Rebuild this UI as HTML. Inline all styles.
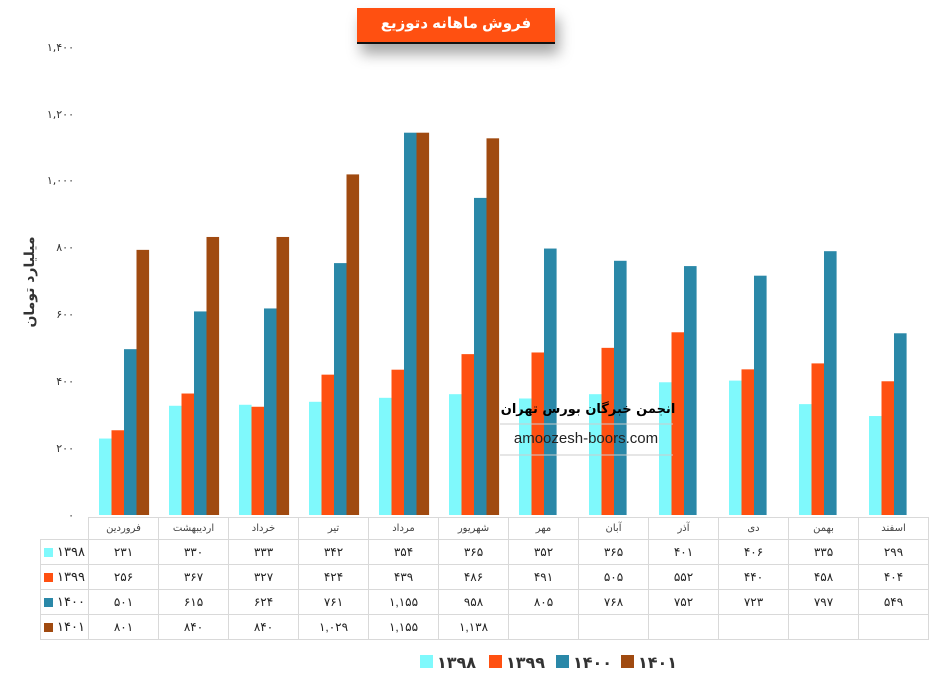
<!DOCTYPE html>
<html><head><meta charset="utf-8"><style>
body{margin:0;background:#fff;width:939px;height:684px;overflow:hidden;position:relative;font-family:"Liberation Sans","DejaVu Sans",sans-serif}
.t{position:absolute;left:357px;top:8px;width:198px;height:34px;background:#ff5011;border-bottom:2px solid #111;color:#fff;font-weight:bold;font-size:15px;text-align:center;line-height:32px;box-shadow:4px 10px 14px rgba(0,0,0,.35)}
table{position:absolute;left:40px;top:517px;border-collapse:collapse;font-size:12px;color:#222;table-layout:fixed;width:888px}
td{border:1.5px solid #d9d9d9;height:25px;text-align:center;padding:0;box-sizing:border-box}
td.h{text-align:left;padding-left:3px;font-size:13px}
tr.hd td{height:22px;font-size:10px;color:#444}
.sw{display:inline-block;width:9px;height:9px;margin-right:4px;vertical-align:middle}
</style></head><body>
<svg id="s" width="939" height="684" style="position:absolute;left:0;top:0">
<g font-size="11" fill="#333" text-anchor="end" font-family="DejaVu Sans,sans-serif">
<text x="74" y="519">۰</text><text x="74" y="452">۲۰۰</text><text x="74" y="385">۴۰۰</text><text x="74" y="318">۶۰۰</text><text x="74" y="251">۸۰۰</text><text x="74" y="184">۱,۰۰۰</text><text x="74" y="118">۱,۲۰۰</text><text x="74" y="51">۱,۴۰۰</text>
</g>
<text transform="translate(34,282) rotate(-90)" text-anchor="middle" font-size="14" font-weight="bold" fill="#333" font-family="DejaVu Sans,sans-serif">میلیارد تومان</text>
<g id="b"></g>
<text x="588" y="413" text-anchor="middle" font-size="13" font-weight="bold" fill="#000" font-family="DejaVu Sans,sans-serif">انجمن خبرگان بورس تهران</text>
<line x1="500" y1="424" x2="673" y2="424" stroke="#ccc"/>
<text x="586" y="443" text-anchor="middle" font-size="15" fill="#222">amoozesh-boors.com</text>
<line x1="500" y1="455" x2="673" y2="455" stroke="#ccc"/>
<g font-size="16" font-weight="bold" fill="#333" font-family="DejaVu Sans,sans-serif">
<rect x="420" y="655" width="13" height="13" fill="#7ff9fc"/><text x="437" y="668">۱۳۹۸</text>
<rect x="489" y="655" width="13" height="13" fill="#ff5011"/><text x="506" y="668">۱۳۹۹</text>
<rect x="556" y="655" width="13" height="13" fill="#2a88a8"/><text x="573" y="668">۱۴۰۰</text>
<rect x="621" y="655" width="13" height="13" fill="#a04a10"/><text x="638" y="668">۱۴۰۱</text>
</g>
</svg>
<div class="t">فروش ماهانه دتوزیع</div>
<table>
<colgroup><col style="width:48px"><col span="12" style="width:70px"></colgroup>
<tr class="hd"><td class="h" style="border-top:none;border-left:none"></td><td>فروردین</td><td>اردیبهشت</td><td>خرداد</td><td>تیر</td><td>مرداد</td><td>شهریور</td><td>مهر</td><td>آبان</td><td>آذر</td><td>دی</td><td>بهمن</td><td>اسفند</td></tr>
<tr><td class="h"><span class="sw" style="background:#7ff9fc"></span>۱۳۹۸</td><td>۲۳۱</td><td>۳۳۰</td><td>۳۳۳</td><td>۳۴۲</td><td>۳۵۴</td><td>۳۶۵</td><td>۳۵۲</td><td>۳۶۵</td><td>۴۰۱</td><td>۴۰۶</td><td>۳۳۵</td><td>۲۹۹</td></tr>
<tr><td class="h"><span class="sw" style="background:#ff5011"></span>۱۳۹۹</td><td>۲۵۶</td><td>۳۶۷</td><td>۳۲۷</td><td>۴۲۴</td><td>۴۳۹</td><td>۴۸۶</td><td>۴۹۱</td><td>۵۰۵</td><td>۵۵۲</td><td>۴۴۰</td><td>۴۵۸</td><td>۴۰۴</td></tr>
<tr><td class="h"><span class="sw" style="background:#2a88a8"></span>۱۴۰۰</td><td>۵۰۱</td><td>۶۱۵</td><td>۶۲۴</td><td>۷۶۱</td><td>۱,۱۵۵</td><td>۹۵۸</td><td>۸۰۵</td><td>۷۶۸</td><td>۷۵۲</td><td>۷۲۳</td><td>۷۹۷</td><td>۵۴۹</td></tr>
<tr><td class="h"><span class="sw" style="background:#a04a10"></span>۱۴۰۱</td><td>۸۰۱</td><td>۸۴۰</td><td>۸۴۰</td><td>۱,۰۲۹</td><td>۱,۱۵۵</td><td>۱,۱۳۸</td><td></td><td></td><td></td><td></td><td></td><td></td></tr>
</table>
<script>
var d=[[231,330,333,342,354,365,352,365,401,406,335,299],[256,367,327,424,439,486,491,505,552,440,458,404],[501,615,624,761,1155,958,805,768,752,723,797,549],[801,840,840,1029,1155,1138]];
var c=["#7ff9fc","#ff5011","#2a88a8","#a04a10"],h="";
for(var s=0;s<4;s++)for(var i=0;i<d[s].length;i++){var v=d[s][i],y=515-v*0.331;h+='<rect x="'+(99+i*70+s*12.5)+'" y="'+y+'" width="12.6" height="'+(515-y)+'" fill="'+c[s]+'"/>';}
document.getElementById("b").innerHTML=h;
</script>
</body></html>
